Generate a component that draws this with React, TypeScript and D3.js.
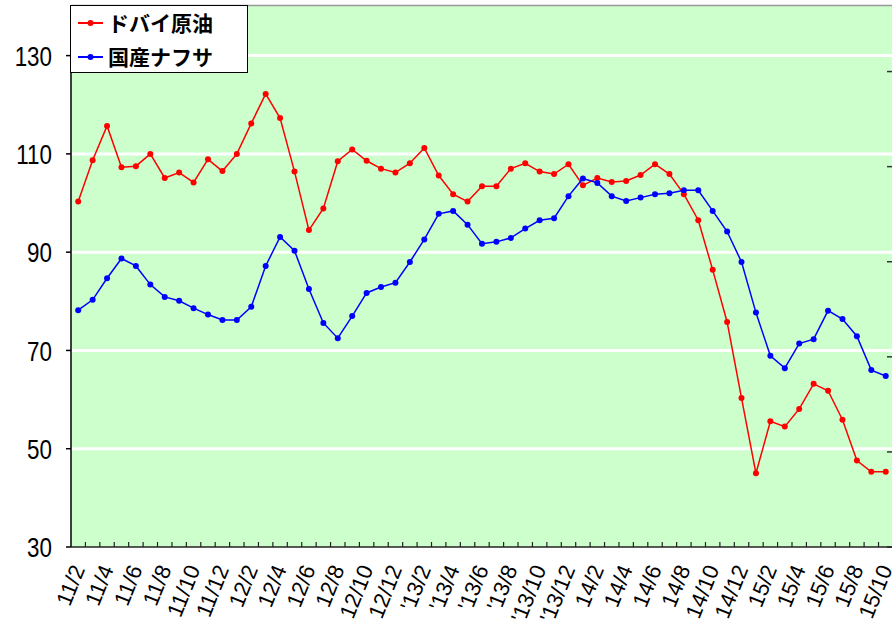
import React from "react";
import * as d3 from "d3";

const months = [
  "11/2", "11/3", "11/4", "11/5", "11/6", "11/7", "11/8", "11/9", "11/10", "11/11", "11/12", "12/1",
  "12/2", "12/3", "12/4", "12/5", "12/6", "12/7", "12/8", "12/9", "12/10", "12/11", "12/12", "13/1",
  "'13/2", "'13/3", "'13/4", "'13/5", "'13/6", "'13/7", "'13/8", "'13/9", "'13/10", "'13/11", "'13/12", "14/1",
  "14/2", "14/3", "14/4", "14/5", "14/6", "14/7", "14/8", "14/9", "14/10", "14/11", "14/12", "15/1",
  "15/2", "15/3", "15/4", "15/5", "15/6", "15/7", "15/8", "15/9", "15/10",
];

const dubai = [
  100.3, 108.7, 115.7, 107.3, 107.5, 110.0, 105.1, 106.2, 104.2, 108.9,
  106.5, 110.0, 116.2, 122.2, 117.3, 106.4, 94.5, 98.9, 108.5, 110.9,
  108.6, 107.0, 106.2, 108.1, 111.2, 105.6, 101.8, 100.3, 103.4, 103.4,
  107.0, 108.1, 106.4, 105.9, 107.9, 103.6, 105.1, 104.3, 104.5, 105.7,
  107.9, 105.9, 101.8, 96.5, 86.4, 75.8, 60.3, 45.0, 55.6, 54.5,
  58.1, 63.2, 61.8, 55.9, 47.6, 45.3, 45.3,
];

const naphtha = [
  78.2, 80.3, 84.7, 88.7, 87.2, 83.4, 80.9, 80.1, 78.6, 77.3,
  76.2, 76.2, 78.9, 87.2, 93.1, 90.3, 82.5, 75.6, 72.5, 77.0,
  81.7, 82.9, 83.8, 88.0, 92.6, 97.8, 98.4, 95.6, 91.7, 92.1,
  92.9, 94.8, 96.5, 96.9, 101.4, 105.0, 104.1, 101.4, 100.4, 101.1,
  101.8, 102.0, 102.6, 102.6, 98.4, 94.2, 88.0, 77.7, 68.9, 66.4,
  71.4, 72.3, 78.1, 76.4, 72.9, 66.0, 64.8,
];

const yTicks = [30, 50, 70, 90, 110, 130];
const series = [
  { name: "ドバイ原油", values: dubai, color: "#ff0000" },
  { name: "国産ナフサ", values: naphtha, color: "#0000ff" },
];

const W = 892;
const H = 622;
const left = 71;
const top = 5;
const bottom = 547;
const step = 14.42;
const right = left + months.length * step;

const numFont = "'Liberation Sans', Arial, sans-serif";

export default function App() {
  const x = d3.scaleBand<string>().domain(months).range([left, right]).padding(0);
  const y = d3.scaleLinear().domain([30, 140.3]).range([bottom, top]);
  const y2 = d3.scaleLinear().domain([0, 570]).range([bottom, top]);
  const cx = (i: number) => (x(months[i]) as number) + x.bandwidth() / 2;

  const line = d3
    .line<number>()
    .x((_, i) => cx(i))
    .y((d) => y(d));

  return (
    <svg width={W} height={H} style={{ position: "absolute", left: 0, top: 0 }}>
      <rect x={left} y={top} width={right - left} height={bottom - top} fill="#ccffcc" />
      <line x1={left} x2={right} y1={top + 0.5} y2={top + 0.5} stroke="#999" strokeWidth={1.5} />

      {yTicks.slice(1).map((t) => (
        <line key={t} x1={left} x2={right} y1={y(t)} y2={y(t)} stroke="#fff" strokeWidth={3} />
      ))}

      {/* left axis */}
      <line x1={left} x2={left} y1={top} y2={bottom} stroke="#000" strokeWidth={1.5} />
      {yTicks.map((t) => (
        <g key={t}>
          <line x1={left - 5} x2={left} y1={y(t)} y2={y(t)} stroke="#000" strokeWidth={1.5} />
          <text
            transform={`translate(52,${y(t)}) scale(0.8,1)`}
            dy="0.36em"
            textAnchor="end"
            fontFamily={numFont}
            fontSize={28}
            fill="#000"
          >
            {t}
          </text>
        </g>
      ))}

      {/* right axis ticks */}
      {y2.ticks(5).map((t) => (
        <line key={t} x1={887} x2={893} y1={y2(t)} y2={y2(t)} stroke="#333" strokeWidth={1.5} />
      ))}

      {/* bottom axis */}
      <line x1={left} x2={right} y1={bottom} y2={bottom} stroke="#222" strokeWidth={1.5} />
      {months.slice(1).map((m) => (
        <line
          key={m}
          x1={x(m) as number}
          x2={x(m) as number}
          y1={bottom - 5}
          y2={bottom}
          stroke="#222"
          strokeWidth={1.2}
        />
      ))}
      {months.map((m, i) =>
        i % 2 === 0 ? (
          <text
            key={m}
            transform={`translate(${cx(i) + 7},${bottom + 22}) rotate(-68)`}
            textAnchor="end"
            fontFamily={numFont}
            fontSize={22}
            fill="#000"
          >
            {m}
          </text>
        ) : null
      )}

      {series.map((s) => (
        <g key={s.name}>
          <path d={line(s.values) as string} fill="none" stroke={s.color} strokeWidth={1.5} />
          {s.values.map((v, i) => (
            <circle key={i} cx={cx(i)} cy={y(v)} r={3} fill={s.color} />
          ))}
        </g>
      ))}

      {/* legend */}
      <rect x={70.5} y={5.5} width={177} height={67} fill="#fff" stroke="#000" strokeWidth={1} />
      {series.map((s, i) => (
        <g key={s.name} transform={`translate(0,${23 + i * 34})`}>
          <line x1={78} x2={103} y1={0} y2={0} stroke={s.color} strokeWidth={2} />
          <circle cx={90.5} cy={0} r={3} fill={s.color} />
          <text
            x={108}
            y={0}
            dy="0.36em"
            fontFamily="'Noto Sans CJK JP', sans-serif"
            fontWeight="bold"
            fontSize={21}
            fill="#000"
          >
            {s.name}
          </text>
        </g>
      ))}
    </svg>
  );
}
